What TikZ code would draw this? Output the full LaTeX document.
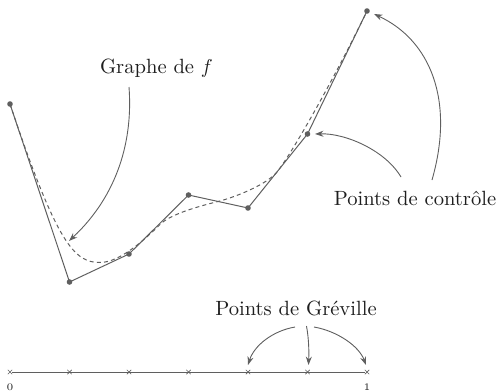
\documentclass[tikz,border=0pt]{standalone}
\usetikzlibrary{calc,arrows.meta,shapes.misc}
\definecolor{ln}{RGB}{95,95,95}
\definecolor{tx}{RGB}{30,30,30}
\tikzset{
  ctrl/.style={circle,fill=ln,inner sep=0pt,minimum size=2.8pt},
  tick/.style={cross out,draw=ln,line width=0.35pt,inner sep=0pt,minimum size=1.8pt},
  poly/.style={draw=ln,line width=0.5pt},
  curve/.style={draw=ln,line width=0.5pt,dash pattern=on 2pt off 1.6pt},
  annot/.style={draw=ln,line width=0.45pt,-{Stealth[length=4.2pt,width=3pt]}},
  lbl/.style={text=tx,inner sep=0pt,anchor=base,font=\fontsize{10.3}{12.4}\selectfont},
  small/.style={text=tx,inner sep=0pt,font=\fontsize{5}{6}\selectfont}
}
\begin{document}
\begin{tikzpicture}[x=0.5pt,y=-0.5pt]
\useasboundingbox (0,0) rectangle (498,391);
% control points
\coordinate (P0) at (10,104);
\coordinate (P1) at (69.5,282);
\coordinate (P2) at (129,254);
\coordinate (P3) at (188.5,195);
\coordinate (P4) at (248,208);
\coordinate (P5) at (307.5,134);
\coordinate (P6) at (367,11);
% points of the graph
\coordinate (K1) at (100,262.5);
\coordinate (K2) at (160,224.5);
\coordinate (K3) at (218,201.5);
\coordinate (K4) at (277,172);
% control polygon
\draw[poly] (P0) -- (P1) -- (P2) -- (P3) -- (P4) -- (P5) -- (P6);
% graph of f
\draw[curve] (P0) .. controls (57.6,246.2) and (75,262.5) .. (K1)
  .. controls (120,262.5) and (145.8,238.6) .. (K2)
  .. controls (170.6,214) and (198.6,206.4) .. (K3)
  .. controls (237.4,196.6) and (267.6,183.7) .. (K4)
  .. controls (292.7,152.5) and (336.5,74) .. (P6);
\foreach \i in {0,...,6} \node[ctrl] (c\i) at (P\i) {};
% axis
\foreach \i in {0,...,6} \node[tick] (t\i) at ({10+59.5*\i},372) {};
\draw[draw=ln,line width=0.4pt] (t0) -- (t6);
\node[small] (z0) at (10,387) {0};
\node[small] (z1) at (367,387) {1};
% labels
\node[lbl] (gf) at (156.5,73) {Graphe de $f$};
\node[lbl] (pc) at (415,205) {Points de contr\^ole};
\node[lbl] (pg) at (296,315) {Points de Gr\'eville};
% annotation arrows
\coordinate (a1) at (129,87);
\coordinate (e1) at (69,241);
\draw[annot] (a1) .. controls (133,140) and (118,195) .. (e1);
\coordinate (a2) at (401,177);
\coordinate (e2) at (315,134);
\draw[annot] (a2) .. controls (385,150) and (345,133) .. (e2);
\coordinate (a3) at (432,180);
\coordinate (e3) at (374,14);
\draw[annot] (a3) .. controls (455,100) and (430,40) .. (e3);
\coordinate (a4) at (295,327);
\coordinate (e4) at (248,365);
\draw[annot] (a4) .. controls (272,331) and (254,346) .. (e4);
\coordinate (a5) at (306.5,326);
\coordinate (e5) at (308.5,365);
\draw[annot] (a5) .. controls (309,340) and (309,352) .. (e5);
\coordinate (a6) at (314,327);
\coordinate (e6) at (366,365);
\draw[annot] (a6) .. controls (337,331) and (359,346) .. (e6);
\end{tikzpicture}
\end{document}
